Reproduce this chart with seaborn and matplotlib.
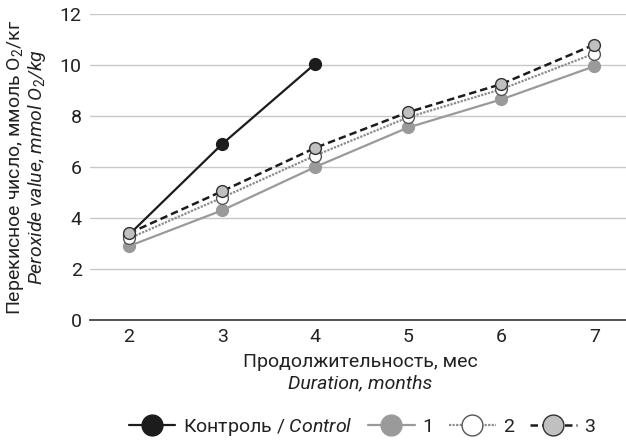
import matplotlib
matplotlib.use("Agg")
import matplotlib.pyplot as plt
from matplotlib.lines import Line2D
import seaborn as sns
import pandas as pd

months = [2, 3, 4, 5, 6, 7]
control = [3.35, 6.9, 10.05]
series_1 = [2.9, 4.3, 6.0, 7.55, 8.65, 9.95]
series_2 = [3.2, 4.8, 6.45, 7.95, 9.05, 10.45]
series_3 = [3.4, 5.05, 6.75, 8.15, 9.25, 10.8]
y_ticks = [0, 2, 4, 6, 8, 10, 12]

sns.set_theme(style="white")
plt.rcParams["font.family"] = ["Roboto", "DejaVu Sans"]
plt.rcParams["mathtext.fontset"] = "custom"
plt.rcParams["mathtext.rm"] = "Roboto"
plt.rcParams["mathtext.it"] = "Roboto:italic"

frames = [
    pd.DataFrame({"month": months[:len(control)], "value": control, "group": "control"}),
    pd.DataFrame({"month": months, "value": series_1, "group": "1"}),
    pd.DataFrame({"month": months, "value": series_2, "group": "2"}),
    pd.DataFrame({"month": months, "value": series_3, "group": "3"}),
]

styles = {
    "control": dict(color="#1c1c1c", ls="-", lw=1.6, mfc="#1c1c1c", mec="#1c1c1c"),
    "1": dict(color="#9a9a9a", ls="-", lw=1.6, mfc="#9a9a9a", mec="#9a9a9a"),
    "2": dict(color="#8c8c8c", ls=(0, (1, 0.6)), lw=1.6, mfc="white", mec="#555555"),
    "3": dict(color="#1c1c1c", ls=(0, (3, 1.6)), lw=1.8, mfc="#c0c0c0", mec="#333333"),
}

fig = plt.figure(figsize=(6.26, 4.44), dpi=100)
ax = fig.add_axes([90 / 626, 1 - 320 / 444, 1 - 90 / 626, (320 - 14) / 444])

for df in frames:
    key = df["group"].iloc[0]
    st = styles[key]
    sns.lineplot(data=df, x="month", y="value", ax=ax, color=st["color"],
                 linestyle=st["ls"], linewidth=st["lw"], marker="o", markersize=8.5,
                 markerfacecolor=st["mfc"], markeredgecolor=st["mec"], markeredgewidth=1.0,
                 legend=False, zorder=3)

ax.set_xlim(1.58, 7.34)
ax.set_ylim(0, 12)
ax.set_yticks(y_ticks)
ax.set_xticks(months)
ax.tick_params(axis="both", labelsize=14, length=0, pad=6, colors="#222222")
ax.yaxis.grid(True, color="#c8c8c8", lw=1.0)
ax.xaxis.grid(False)
for s in ["top", "right", "left"]:
    ax.spines[s].set_visible(False)
ax.spines["bottom"].set_color("#444444")
ax.spines["bottom"].set_linewidth(1.3)
ax.set_xlabel("")
ax.set_ylabel("")

fig.text(360 / 626, 1 - 362 / 444, "Продолжительность, мес", ha="center", va="center",
         fontsize=14, color="#222222")
fig.text(360 / 626, 1 - 383 / 444, "Duration, months", ha="center", va="center",
         fontsize=14, style="italic", color="#222222")
fig.text(16 / 626, 1 - 167 / 444, "Перекисное число, ммоль O$_2$/кг", ha="center", va="center",
         rotation=90, fontsize=14, color="#222222")
fig.text(37 / 626, 1 - 167 / 444, "Peroxide value, mmol O$_{\\it 2}$/kg", ha="center", va="center",
         rotation=90, fontsize=14, style="italic", color="#222222")

handles = []
for key in ["control", "1", "2", "3"]:
    st = styles[key]
    handles.append(Line2D([], [], color=st["color"], ls=st["ls"], lw=st["lw"], marker="o",
                          markersize=15, markerfacecolor=st["mfc"], markeredgecolor=st["mec"]))
labels = ["Контроль / $\\it{Control}$", "1", "2", "3"]
leg = fig.legend(handles, labels, loc="center", bbox_to_anchor=(362 / 626, 1 - 427 / 444),
                 ncol=4, frameon=False, fontsize=14, handlelength=2.4, handletextpad=0.4,
                 columnspacing=0.8)
for t in leg.get_texts():
    t.set_color("#222222")

fig.savefig("out.png", dpi=100)
